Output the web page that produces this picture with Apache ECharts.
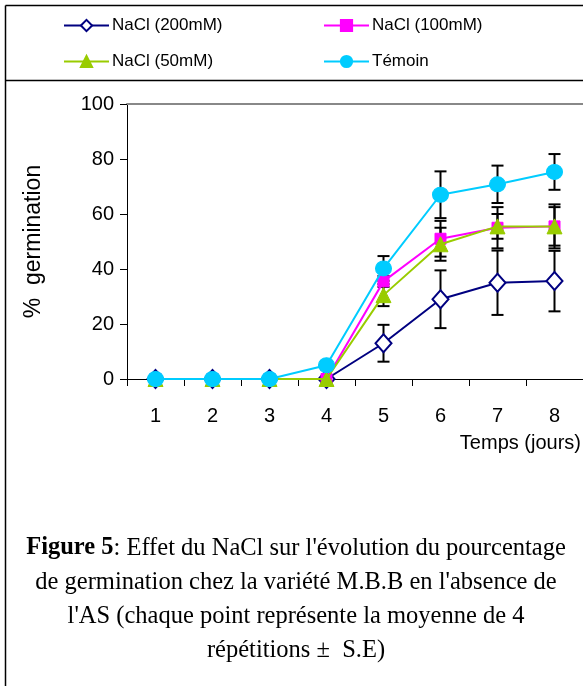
<!DOCTYPE html>
<html><head><meta charset="utf-8">
<script src="https://cdn.jsdelivr.net/npm/echarts@6/dist/echarts.min.js"></script>
<style>html,body{margin:0;padding:0;background:#fff}#c{width:583px;height:686px}</style>
</head><body><div id="c"></div>
<script>
const days = ['1','2','3','4','5','6','7','8'];
const yTicks = [0,20,40,60,80,100];
const seriesNames = ['NaCl (200mM)','NaCl (100mM)','NaCl (50mM)','Témoin'];
const nacl200 = [0,0,0,0,13,29,35,35.6];
const nacl200Err = [0,0,0,0,6.7,10.5,11.7,11];
const nacl100 = [0,0,0,0,35.5,51,55,55.5];
const nacl100Err = [0,0,0,0,2,6.5,7.5,7];
const nacl50 = [0,0,0,0,30.5,49,55.5,55.5];
const nacl50Err = [0,0,0,0,4,6,4.5,8];
const temoin = [0,0,0,5,40.2,67,70.8,75.3];
const temoinErr = [0,0,0,1.5,4.5,8.5,6.8,6.5];
const xName = 'Temps (jours)';
const yName = '%  germination';
const captionBold = 'Figure 5';
const captionLines = [
  ': Effet du NaCl sur l\'évolution du pourcentage',
  'de germination chez la variété M.B.B en l\'absence de',
  'l\'AS (chaque point représente la moyenne de 4',
  'répétitions ±  S.E)'
];

const FONT = '"Liberation Sans",Arial,sans-serif';
const SERIF = '"Liberation Serif","Times New Roman",serif';
const chart = echarts.init(document.getElementById('c'), null, {renderer:'canvas'});

function errData(vals, errs){
  const out = [];
  vals.forEach((v,i)=>{ if(errs[i]>0) out.push([i, v-errs[i], v+errs[i]]); });
  return out;
}
function errSeries(vals, errs){
  return {
    type:'custom', z:1, silent:true,
    data: errData(vals, errs),
    encode:{x:0, y:[1,2]},
    renderItem:function(params, api){
      const x = api.value(0);
      const lo = api.coord([x, api.value(1)]);
      const hi = api.coord([x, api.value(2)]);
      const w = 6;
      const st = {stroke:'#000', lineWidth:2};
      return {type:'group', children:[
        {type:'line', shape:{x1:lo[0],y1:lo[1],x2:hi[0],y2:hi[1]}, style:st},
        {type:'line', shape:{x1:lo[0]-w,y1:lo[1],x2:lo[0]+w,y2:lo[1]}, style:st},
        {type:'line', shape:{x1:hi[0]-w,y1:hi[1],x2:hi[0]+w,y2:hi[1]}, style:st}
      ]};
    }
  };
}
function legendAt(name, left, top){
  return {data:[name], left:left, top:top, padding:0, itemWidth:45, itemHeight:14, itemGap:0,
    textStyle:{fontFamily:FONT, fontSize:17, color:'#000', padding:[0,0,0,-2]}, selectedMode:false};
}

const captionText = '{b|' + captionBold + '}' + captionLines.join('\n');

const option = {
  animation:false,
  backgroundColor:'#fff',
  legend:[
    legendAt(seriesNames[0], 63, 17),
    legendAt(seriesNames[1], 323, 17),
    legendAt(seriesNames[2], 63, 53),
    legendAt(seriesNames[3], 323, 53)
  ],
  grid:{left:127, top:104, right:0, height:275},
  xAxis:[{
    type:'category', data:days, boundaryGap:true,
    axisLine:{lineStyle:{color:'#000', width:1}},
    axisTick:{show:true, inside:false, length:7, lineStyle:{color:'#000'}},
    axisLabel:{fontFamily:FONT, fontSize:20, color:'#000', margin:27}
  },{
    type:'category', data:days, position:'top',
    axisLine:{lineStyle:{color:'#888', width:2}},
    axisTick:{show:false}, axisLabel:{show:false}
  }],
  yAxis:{
    type:'value', min:0, max:100, interval:20,
    name:yName, nameLocation:'middle', nameGap:82,
    nameTextStyle:{fontFamily:FONT, fontSize:23, color:'#000'},
    axisLine:{show:true, lineStyle:{color:'#000', width:1}},
    axisTick:{show:true, length:7, lineStyle:{color:'#000'}},
    axisLabel:{fontFamily:FONT, fontSize:20, color:'#000', margin:13,
      formatter:function(v){ return yTicks.indexOf(v)>=0 ? String(v) : ''; }},
    splitLine:{show:false}
  },
  series:[
    errSeries(nacl200, nacl200Err),
    errSeries(nacl100, nacl100Err),
    errSeries(nacl50, nacl50Err),
    errSeries(temoin, temoinErr),
    {name:seriesNames[0], type:'line', data:nacl200, z:3, symbol:'diamond', symbolSize:[16,18],
      lineStyle:{color:'#000080', width:2}, itemStyle:{color:'#fff', borderColor:'#000080', borderWidth:2}},
    {name:seriesNames[1], type:'line', data:nacl100, z:4, symbol:'rect', symbolSize:11,
      lineStyle:{color:'#ff00ff', width:2}, itemStyle:{color:'#ff00ff', borderColor:'#ff00ff', borderWidth:1}},
    {name:seriesNames[2], type:'line', data:nacl50, z:5, symbol:'triangle', symbolSize:[15,15],
      lineStyle:{color:'#99cc00', width:2}, itemStyle:{color:'#99cc00', borderColor:'#99cc00', borderWidth:1}},
    {name:seriesNames[3], type:'line', data:temoin, z:6, symbol:'circle', symbolSize:[16,15],
      lineStyle:{color:'#00ccff', width:2}, itemStyle:{color:'#00ccff', borderColor:'#00ccff', borderWidth:1}}
  ],
  graphic:[
    {type:'line', shape:{x1:5.5,y1:5.5,x2:583,y2:5.5}, style:{stroke:'#000', lineWidth:1.5}, silent:true},
    {type:'line', shape:{x1:5.5,y1:5.5,x2:5.5,y2:686}, style:{stroke:'#000', lineWidth:1.5}, silent:true},
    {type:'line', shape:{x1:5.5,y1:80.5,x2:583,y2:80.5}, style:{stroke:'#000', lineWidth:1.5}, silent:true},
    {type:'text', right:2, top:433, style:{text:xName, fontFamily:FONT, fontSize:20, fill:'#000'}},
    {type:'text', x:296, y:531, scaleX:0.98, style:{
      text:captionText, align:'center', verticalAlign:'top',
      fontFamily:SERIF, fontSize:25, lineHeight:34, fill:'#000',
      rich:{b:{fontWeight:'bold', fontFamily:SERIF, fontSize:25, lineHeight:34}}
    }}
  ]
};
chart.setOption(option);
</script></body></html>
